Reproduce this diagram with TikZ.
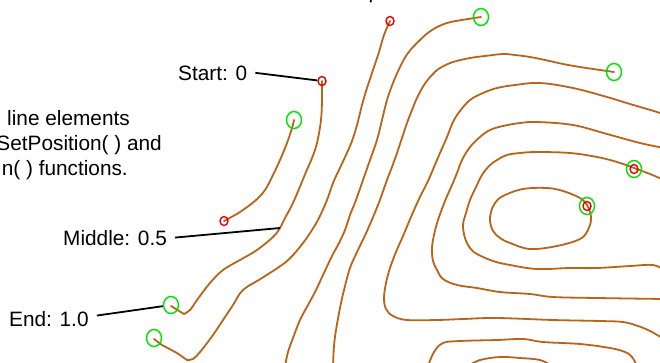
\documentclass[tikz,border=0pt]{standalone}
\usepackage{fontspec}
\setmainfont{Liberation Sans}
\usetikzlibrary{shapes.geometric}
\definecolor{contour}{RGB}{185,100,25}
\definecolor{mkgreen}{RGB}{0,225,0}
\definecolor{mkred}{RGB}{230,0,0}
\begin{document}
\begin{tikzpicture}[x=1pt,y=-1pt,
  contourline/.style={draw=contour, line width=1.8pt, line join=round, line cap=round},
  gmark/.style={draw=mkgreen, ellipse, line width=1.4pt, minimum width=15pt, minimum height=17pt, inner sep=0pt},
  rmark/.style={draw=mkred, ellipse, line width=1.4pt, minimum width=8pt, minimum height=9pt, inner sep=0pt},
  lbl/.style={font=\fontsize{20.8}{25}\selectfont, inner xsep=8pt, inner ysep=0pt},
  txt/.style={font=\fontsize{20.8}{25}\selectfont, inner sep=0pt},
  leader/.style={draw=black, line width=1.8pt}
]
\useasboundingbox (0,0) rectangle (660,362);

% contour lines
\draw[contourline] plot[smooth, tension=0.6] coordinates {(224,221) (240,212) (256,200) (265,190) (272,177) (280,160) (287,143) (292,128) (294,120)};
\draw[contourline] plot[smooth, tension=0.6] coordinates {(322,81) (322,100) (321,120) (317,143) (312,158) (306,172) (299,189) (292,205) (285,218) (280,228) (273,237) (257,250) (240,260) (223,270) (210,283) (197,300) (190,310) (184,314)} -- (171,306);
\draw[contourline] plot[smooth, tension=0.6] coordinates {(390,21) (384,35) (379,52) (373,70) (367,88) (362,105) (357,125) (352,141) (346,155) (339,170) (333,183) (327,200) (319,218) (312,230) (303,243) (287,261) (262,278) (243,290) (233,305) (223,320) (213,335) (200,352) (193,359) (187,360)} -- (177,353) -- (162,345) -- (154,339);
\draw[contourline] plot[smooth, tension=0.6] coordinates {(481,17) (468,19) (447,23) (432,30) (420,40) (408,53) (400,67) (393,83) (387,100) (382,120) (377,140) (370,160) (363,180) (356,200) (350,215) (345,230) (339,243) (332,256) (323,275) (316,290) (308,305) (300,320) (293,338) (288,352) (285,366)};
\draw[contourline] plot[smooth, tension=0.6] coordinates {(614,72) (600,70) (580,67) (563,64) (545,60) (530,57) (515,55) (503,54) (485,56) (470,58) (453,62) (440,68) (432,75) (424,85) (417,98) (412,110) (407,123) (402,138) (397,153) (392,167) (387,180) (378,205) (367,231) (358,250) (350,268) (344,290) (340,308) (336,330) (334,346) (333,366)};
\draw[contourline] plot[smooth, tension=0.6] coordinates {(664,115) (657,112) (630,104) (607,97) (573,88) (540,83) (515,85) (497,88) (483,93) (470,100) (460,111) (453,122) (447,137) (440,153) (434,167) (428,181) (419,199) (411,217) (403,236) (396,252) (390,268) (386,283) (384,298) (386,309) (393,316) (407,320) (437,320) (463,319) (497,318) (553,320) (600,321) (623,322) (638,326) (650,331) (664,339)};
\draw[contourline] plot[smooth, tension=0.6] coordinates {(664,148) (640,143) (607,134) (573,125) (537,122) (520,123) (503,126) (490,130) (480,137) (470,147) (462,160) (457,173) (452,185) (445,201) (438,220) (434,235) (432,248) (433,261) (437,270) (443,279) (457,285) (477,288) (500,292) (530,294) (553,297) (597,298) (664,299)};
\draw[contourline] plot[smooth, tension=0.6] coordinates {(664,180) (650,174) (634,168) (617,162) (597,157) (570,153) (537,152) (520,153) (507,155) (497,160) (489,166) (482,175) (476,187) (470,200) (466,213) (463,225) (465,238) (470,248) (477,254) (493,261) (510,265) (537,269) (570,268) (597,268) (630,266) (653,265) (664,270)};
\draw[contourline] plot[smooth cycle, tension=0.6] coordinates {(587,205) (580,198) (563,191) (547,188) (523,189) (503,196) (495,203) (491,212) (490,221) (493,231) (500,238) (510,243) (530,249) (557,246) (580,239) (588,230) (591,220) (590,212)};
\draw[contourline] plot[smooth, tension=0.6] coordinates {(428,366) (434,352) (443,343) (460,341) (497,340) (523,339) (543,342) (580,344) (610,348) (625,352) (632,357) (637,366)};
\draw[contourline] plot[smooth, tension=0.6] coordinates {(468,366) (480,360) (500,357) (520,358) (540,360) (552,366)};

% markers
\node[rmark] (s0) at (322,81) {};
\node[rmark] (c0) at (390,21) {};
\node[rmark] (a0) at (224,221) {};
\node[gmark] (a1) at (294,120) {};
\node[gmark] (d1) at (481,17) {};
\node[gmark] (e1) at (614,72) {};
\node[gmark] (b1e) at (171,305) {};
\node[gmark] (c1) at (154,338) {};
\node[gmark] (h1) at (634,169) {};
\node[rmark] (h0) at (634,169) {};
\node[gmark] (l1) at (587,206) {};
\node[rmark] (l0) at (587,206) {};

% labels and leaders
\node[lbl, anchor=base west] (startlbl) at (170,80) {Start: 0};
\node[lbl, anchor=base west] (midlbl) at (55,245) {Middle: 0.5};
\node[lbl, anchor=base west] (endlbl) at (1,326) {End: 1.0};
\coordinate (mid) at (280,228);
\draw[leader] (startlbl.east) -- (s0);
\draw[leader] (midlbl.east) -- (mid);
\draw[leader] ([yshift=3pt]endlbl.east) -- (b1e);

% text
\node[txt, anchor=base east] (t1) at (130,125) {line elements};
\node[txt, anchor=base east] (t2) at (162,150) {SetPosition( ) and};
\node[txt, anchor=base east] (t3) at (128,175) {n( ) functions.};
\node[txt, anchor=base west] (pfrag) at (368.5,-2) {p};
\end{tikzpicture}
\end{document}
